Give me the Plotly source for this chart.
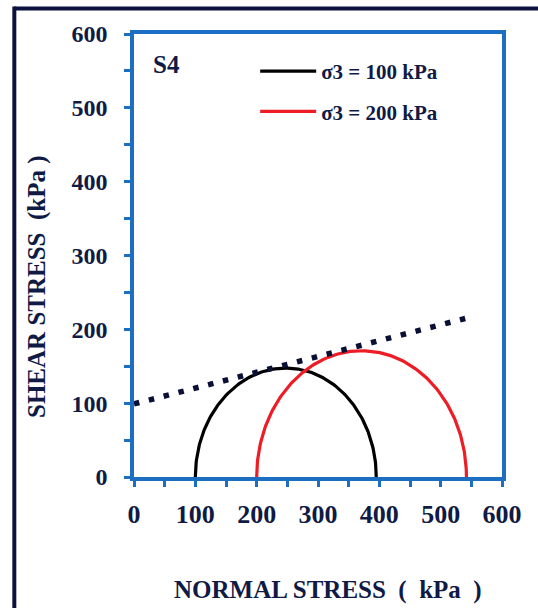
import numpy as np
import plotly.graph_objects as go

# ---- data ----
sigma3 = [100, 200]          # confining pressure (kPa)
sigma1 = [395, 542]          # major principal stress at failure (kPa)
series_names = ["σ3 = 100 kPa", "σ3 = 200 kPa"]
series_colors = ["#000000", "#ee1c25"]

envelope_sigma = [0, 540]    # failure envelope, normal stress (kPa)
envelope_tau = [99, 214.7]   # failure envelope, shear stress (kPa)

tick_vals = [0, 100, 200, 300, 400, 500, 600]
tick_text = ["0", "100", "200", "300", "400", "500", "600"]

# ---- layout geometry (pixels) ----
W, H = 538, 608
L, R, T, B = 133.5, 502.5, 33.5, 477.0


def px_x(p):
    return (p - L) / (R - L)


def px_y(p):
    return (B - p) / (B - T)


NAVY = "#0f1a45"
BLUE = "#1b6ec2"
FONT = "Liberation Serif"

fig = go.Figure()

theta = np.linspace(0, np.pi, 181)
for s3, s1, name, col in zip(sigma3, sigma1, series_names, series_colors):
    c = (s1 + s3) / 2
    r = (s1 - s3) / 2
    fig.add_trace(go.Scatter(
        x=c - r * np.cos(theta), y=r * np.sin(theta),
        mode="lines", name=name, legendgroup=name,
        line=dict(color=col, width=3.2),
    ))

fig.add_trace(go.Scatter(
    x=envelope_sigma, y=envelope_tau, mode="lines", showlegend=False,
    line=dict(color="#0a1035", width=5.5, dash="5.5px,9.8px"),
))

axis_common = dict(
    range=[0, 600], tickvals=tick_vals, ticktext=tick_text,
    showline=True, linecolor=BLUE, linewidth=3.5, mirror=True,
    ticks="outside", ticklen=6, tickwidth=2.5, tickcolor=BLUE,
    minor=dict(dtick=50, ticks="outside", ticklen=6, tickwidth=2.5, tickcolor=BLUE),
    showgrid=False, zeroline=False, fixedrange=True,
    tickfont=dict(family=FONT, size=24, color=NAVY, weight="bold"),
)

fig.update_layout(
    width=W, height=H,
    margin=dict(l=L, r=W - R, t=T, b=H - B, autoexpand=False),
    paper_bgcolor="white", plot_bgcolor="white",
    xaxis=dict(**axis_common, ticklabelstandoff=5),
    yaxis=dict(**axis_common, ticklabelstandoff=12),
    legend=dict(
        x=px_x(255), y=px_y(50.5), xanchor="left", yanchor="top",
        bgcolor="rgba(0,0,0,0)", borderwidth=0,
        font=dict(family=FONT, size=21, color=NAVY, weight="bold"),
        traceorder="grouped", tracegroupgap=10, itemwidth=56,
    ),
    showlegend=True,
)

fig.update_xaxes(tickfont_size=26)

title_font = dict(family=FONT, size=25, color=NAVY, weight="bold")
annotations = [
    dict(text="S4", x=px_x(166.5), y=px_y(64.5), xref="paper", yref="paper",
         xanchor="center", yanchor="middle", showarrow=False,
         font=dict(family=FONT, size=25, color=NAVY, weight="bold")),
    dict(text="NORMAL STRESS  (  kPa  )", x=px_x(328.5), y=px_y(590), xref="paper", yref="paper",
         xanchor="center", yanchor="middle", showarrow=False, font=title_font),
    dict(text="SHEAR STRESS  (kPa )", x=px_x(36), y=px_y(286), xref="paper", yref="paper",
         xanchor="center", yanchor="middle", textangle=-90, showarrow=False, font=title_font),
]
fig.update_layout(annotations=annotations)

# outer frame (only top and left edges visible in the reference)
frame_col = "#0b1240"
fig.add_shape(type="line", xref="paper", yref="paper",
              x0=px_x(13.5), x1=px_x(545), y0=px_y(8), y1=px_y(8),
              line=dict(color=frame_col, width=4))
fig.add_shape(type="line", xref="paper", yref="paper",
              x0=px_x(13.5), x1=px_x(13.5), y0=px_y(6), y1=px_y(620),
              line=dict(color=frame_col, width=4))

fig.write_html("out.html", config={"displayModeBar": False},
               post_script="document.body.style.margin='0px';document.body.style.overflow='hidden';")
